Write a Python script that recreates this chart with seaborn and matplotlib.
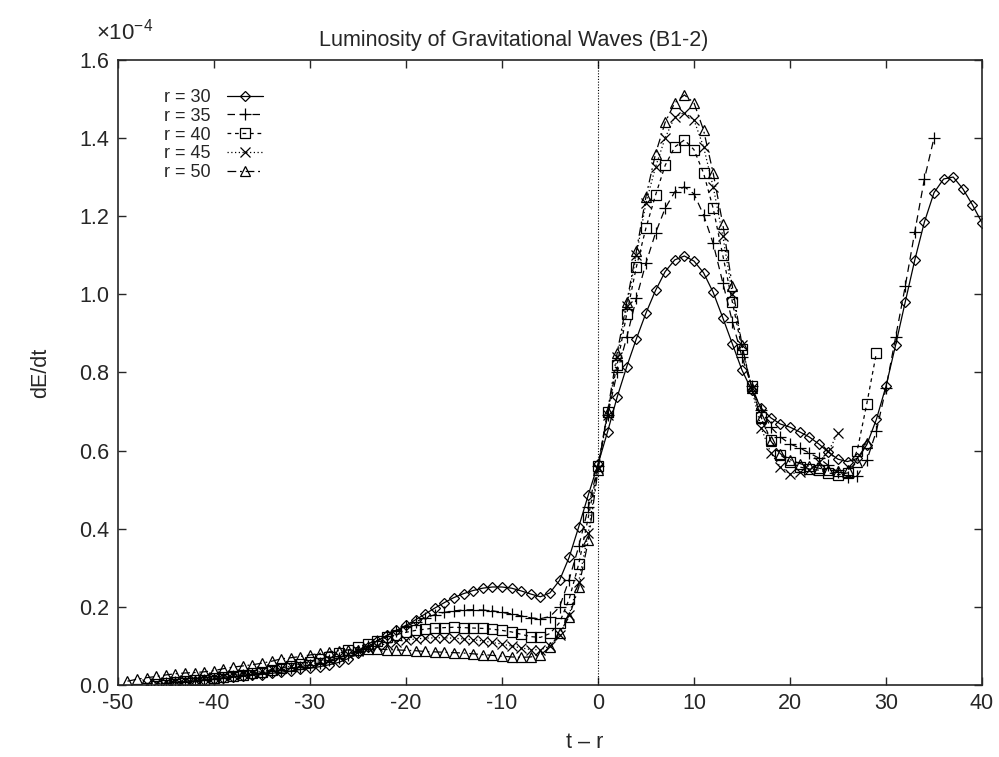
import numpy as np
import pandas as pd
import seaborn as sns
import matplotlib.pyplot as plt

# dE/dt in units of 1e-4, sampled every unit of t - r
t0_30 = -44
r30 = [0.005, 0.007, 0.010, 0.012, 0.015, 0.017, 0.020, 0.022, 0.025, 0.027,
       0.030, 0.033, 0.036, 0.040, 0.043, 0.047, 0.052, 0.058, 0.068, 0.082,
       0.098, 0.113, 0.127, 0.140, 0.153, 0.167, 0.182, 0.197, 0.211, 0.224,
       0.234, 0.242, 0.248, 0.251, 0.251, 0.248, 0.241, 0.233, 0.226, 0.236,
       0.268, 0.327, 0.405, 0.487, 0.565, 0.648, 0.737, 0.815, 0.886, 0.952,
       1.010, 1.058, 1.088, 1.098, 1.085, 1.055, 1.005, 0.940, 0.873, 0.806,
       0.755, 0.709, 0.684, 0.668, 0.660, 0.648, 0.635, 0.617, 0.596, 0.578,
       0.572, 0.580, 0.615, 0.680, 0.765, 0.870, 0.980, 1.088, 1.185, 1.260,
       1.295, 1.300, 1.270, 1.229, 1.183]

t0_35 = -45
r35 = [0.005, 0.007, 0.009, 0.011, 0.013, 0.016, 0.019, 0.022, 0.025, 0.028,
       0.031, 0.035, 0.039, 0.043, 0.047, 0.052, 0.057, 0.063, 0.070, 0.078,
       0.088, 0.100, 0.113, 0.126, 0.138, 0.150, 0.162, 0.172, 0.180, 0.186,
       0.190, 0.192, 0.193, 0.192, 0.190, 0.186, 0.182, 0.177, 0.172, 0.170,
       0.175, 0.200, 0.270, 0.355, 0.455, 0.560, 0.690, 0.800, 0.890, 0.990,
       1.080, 1.157, 1.220, 1.262, 1.275, 1.257, 1.203, 1.130, 1.030, 0.930,
       0.840, 0.765, 0.705, 0.660, 0.635, 0.617, 0.607, 0.594, 0.581, 0.562,
       0.545, 0.533, 0.535, 0.575, 0.650, 0.760, 0.890, 1.020, 1.160, 1.295,
       1.400]

t0_40 = -46
r40 = [0.004, 0.006, 0.008, 0.010, 0.012, 0.014, 0.017, 0.020, 0.023, 0.026,
       0.030, 0.034, 0.039, 0.044, 0.049, 0.054, 0.060, 0.066, 0.073, 0.081,
       0.089, 0.097, 0.106, 0.114, 0.122, 0.129, 0.135, 0.140, 0.143, 0.146,
       0.147, 0.148, 0.147, 0.146, 0.145, 0.143, 0.140, 0.136, 0.130, 0.124,
       0.122, 0.132, 0.160, 0.220, 0.310, 0.430, 0.560, 0.700, 0.820, 0.950,
       1.070, 1.170, 1.254, 1.330, 1.377, 1.395, 1.370, 1.310, 1.220, 1.100,
       0.980, 0.860, 0.765, 0.685, 0.627, 0.589, 0.571, 0.558, 0.553, 0.550,
       0.543, 0.538, 0.543, 0.600, 0.720, 0.850]

t0_45 = -47
r45 = [0.004, 0.006, 0.008, 0.010, 0.012, 0.014, 0.017, 0.020, 0.023, 0.026,
       0.029, 0.032, 0.036, 0.040, 0.044, 0.048, 0.052, 0.057, 0.062, 0.068,
       0.074, 0.080, 0.087, 0.094, 0.100, 0.106, 0.111, 0.115, 0.118, 0.120,
       0.121, 0.121, 0.120, 0.118, 0.116, 0.113, 0.109, 0.105, 0.100, 0.095,
       0.091, 0.090, 0.100, 0.128, 0.180, 0.265, 0.390, 0.555, 0.690, 0.840,
       0.970, 1.100, 1.234, 1.326, 1.400, 1.454, 1.465, 1.446, 1.377, 1.275,
       1.150, 1.000, 0.870, 0.760, 0.658, 0.594, 0.558, 0.540, 0.545, 0.550,
       0.570, 0.598, 0.645]

t0_50 = -49
r50 = [0.010, 0.015, 0.019, 0.022, 0.026, 0.029, 0.031, 0.032, 0.034, 0.037,
       0.042, 0.046, 0.049, 0.052, 0.056, 0.061, 0.067, 0.070, 0.073, 0.077,
       0.081, 0.085, 0.088, 0.090, 0.091, 0.092, 0.092, 0.091, 0.090, 0.089,
       0.088, 0.086, 0.085, 0.084, 0.083, 0.082, 0.080, 0.078, 0.076, 0.074,
       0.072, 0.071, 0.072, 0.077, 0.097, 0.133, 0.175, 0.250, 0.370, 0.550,
       0.700, 0.850, 0.980, 1.110, 1.250, 1.360, 1.440, 1.490, 1.510, 1.490,
       1.420, 1.310, 1.180, 1.020, 0.870, 0.760, 0.683, 0.625, 0.592, 0.577,
       0.567, 0.560, 0.555, 0.550, 0.548, 0.550, 0.570, 0.620]

series = [
    ("r = 30", t0_30, r30, "D", "-"),
    ("r = 35", t0_35, r35, "+", (0, (6, 4))),
    ("r = 40", t0_40, r40, "s", (0, (3, 3))),
    ("r = 45", t0_45, r45, "x", (0, (1, 2))),
    ("r = 50", t0_50, r50, "^", (0, (7, 3, 1.5, 3))),
]

sns.set_style("ticks")
plt.rcParams["font.family"] = ["Liberation Sans", "DejaVu Sans"]
plt.rcParams["mathtext.default"] = "regular"
plt.rcParams["axes.unicode_minus"] = False

fig = plt.figure(figsize=(9.99, 7.57), dpi=100)
ax = fig.add_axes([0.118, 0.095, 0.865, 0.826])

for label, t0, vals, mk, ls in series:
    df = pd.DataFrame({"t": t0 + np.arange(len(vals)), "dEdt": vals})
    ms = {"D": 5.5, "+": 8, "s": 6.5, "x": 7, "^": 7}[mk]
    sns.lineplot(data=df, x="t", y="dEdt", ax=ax, color="black", lw=0.9,
                 linestyle=ls, marker=mk, markersize=ms, mfc="none",
                 mec="black", mew=0.9, label=label)

ax.axvline(0, color="black", ls=(0, (1, 1.5)), lw=0.8)

ax.set_xlim(-50, 40)
ax.set_ylim(0, 1.6)
ax.set_xticks(np.arange(-50, 41, 10))
ax.set_yticks(np.arange(0, 1.61, 0.2))
ax.set_yticklabels([f"{v:.1f}" for v in np.arange(0, 1.61, 0.2)])
ax.tick_params(direction="in", length=6, width=1, top=True, right=True,
               labelsize=15.5, pad=6)
for s in ax.spines.values():
    s.set_linewidth(1.2)
    s.set_visible(True)

fig.text(514 / 999, 1 - 46 / 757, "Luminosity of Gravitational Waves (B1-2)",
         fontsize=15.5, ha="center", va="baseline")
ax.set_xlabel("t \u2013 r", fontsize=15.5)
ax.xaxis.set_label_coords(0.54, -0.075)
ax.set_ylabel("dE/dt", fontsize=15.5, labelpad=20)
ax.text(-0.025, 1.025, "\u00d710$^{-4}$", transform=ax.transAxes, fontsize=16,
        ha="left", va="bottom")

leg = ax.legend(loc="upper left", bbox_to_anchor=(0.045, 0.965), frameon=False,
                markerfirst=False, handlelength=2.0, fontsize=13,
                labelspacing=0.1, handletextpad=0.9, borderaxespad=0)

fig.savefig("out.png", dpi=100)
